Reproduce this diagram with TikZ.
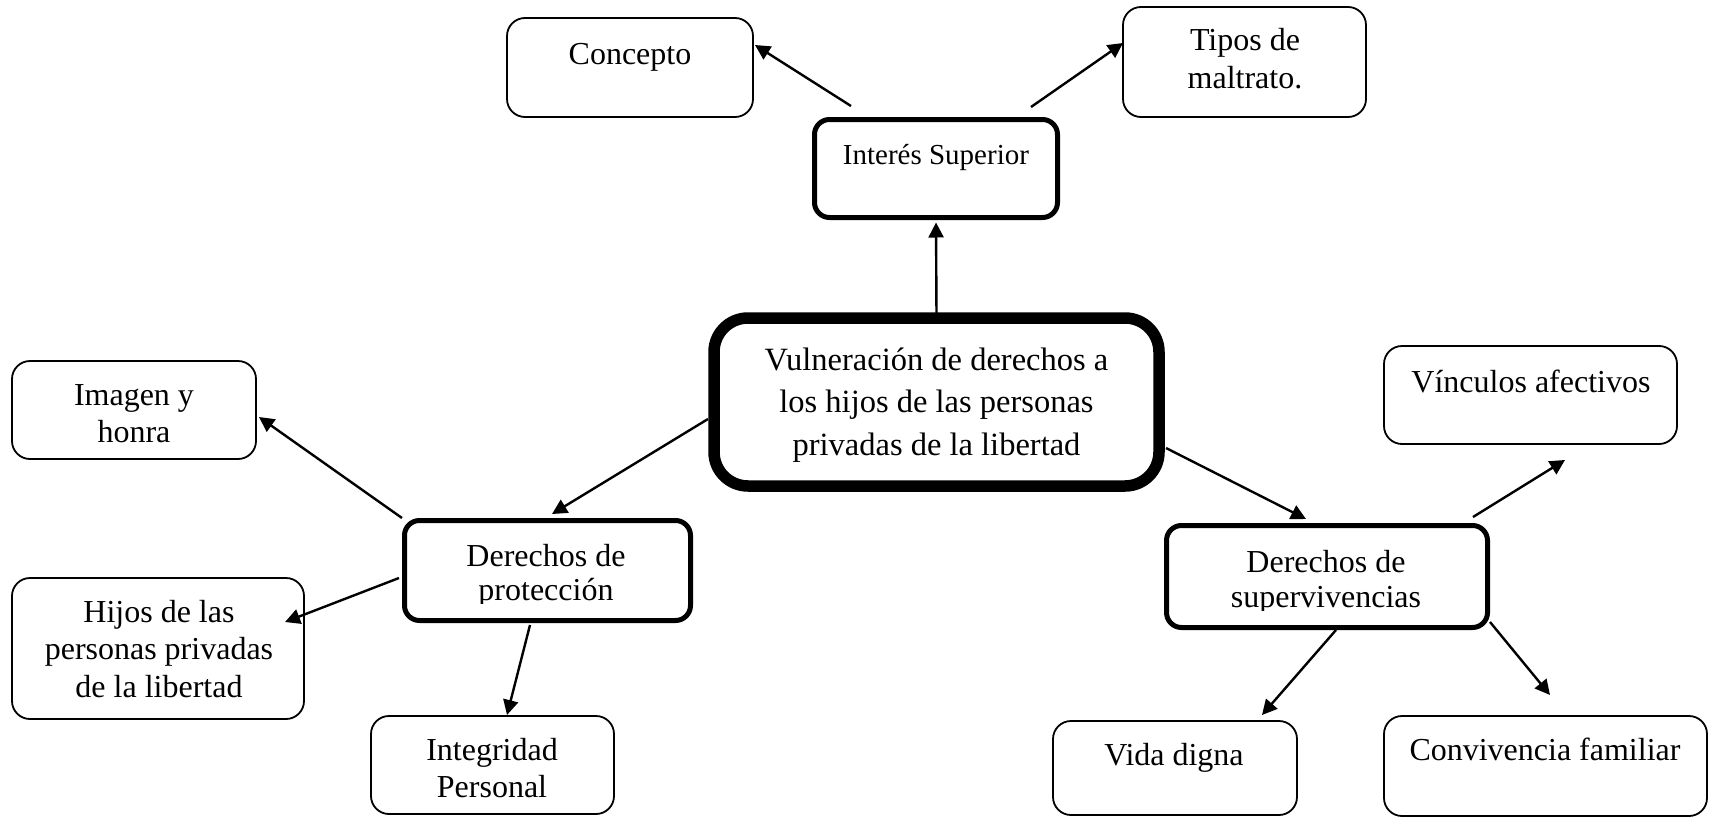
\documentclass[tikz,border=0pt]{standalone}
\usepackage{fontspec}
\setmainfont{Liberation Serif}
\usetikzlibrary{arrows.meta}
\newcommand{\boxtext}[1]{\parbox[t]{420pt}{\centering #1}}
\begin{document}
\begin{tikzpicture}[x=1pt,y=-1pt,
  thinbox/.style={draw, rounded corners=18pt, line width=1.8pt, inner sep=0pt, outer sep=0pt},
  thickbox/.style={draw, rounded corners=15pt, line width=5pt, inner sep=0pt, outer sep=0pt},
  mainbox/.style={draw, rounded corners=34pt, line width=11.5pt, inner sep=0pt, outer sep=0pt},
  txt/.style={anchor=base, inner sep=0pt, font=\fontsize{32}{37.5}\selectfont},
  arr/.style={line width=2.4pt, -{Triangle[length=15pt,width=15pt]}}]
\useasboundingbox (0,0) rectangle (1709,819);

% boxes
\node[mainbox, minimum width=445pt, minimum height=168pt] (central) at (936.5,402) {};
\node[thickbox, minimum width=243pt, minimum height=98pt] (interes) at (936,168.5) {};
\node[thinbox, minimum width=246pt, minimum height=99pt] (concepto) at (630,67.5) {};
\node[thinbox, minimum width=243pt, minimum height=110pt] (tipos) at (1244.5,62) {};
\node[thickbox, minimum width=286pt, minimum height=100pt] (derprot) at (547.5,570.5) {};
\node[thinbox, minimum width=244pt, minimum height=98pt] (imagen) at (134,410) {};
\node[thinbox, minimum width=292pt, minimum height=141pt] (hijos) at (158,648.5) {};
\node[thinbox, minimum width=243pt, minimum height=98pt] (integ) at (492.5,765) {};
\node[thickbox, minimum width=321pt, minimum height=102pt] (dersup) at (1327,576.5) {};
\node[thinbox, minimum width=293pt, minimum height=98pt] (vinculos) at (1530.5,395) {};
\node[thinbox, minimum width=244pt, minimum height=94pt] (vida) at (1175,768) {};
\node[thinbox, minimum width=323pt, minimum height=100pt] (conv) at (1545.5,766) {};

% texts
\node[txt, font=\fontsize{32.5}{42.5}\selectfont] (central-t) at (936.5,370) {\boxtext{Vulneración de derechos a\\los hijos de las personas\\privadas de la libertad}};
\node[txt, font=\fontsize{29}{34}\selectfont] (interes-t) at (936,164) {\boxtext{Interés Superior}};
\node[txt] (concepto-t) at (630,64) {\boxtext{Concepto}};
\node[txt, font=\fontsize{32}{38}\selectfont] (tipos-t) at (1245,50) {\boxtext{Tipos de\\maltrato.}};
\begin{scope}
\clip (405,530) rectangle (690,603);
\node[txt, font=\fontsize{32}{34}\selectfont] (derprot-t) at (546,566) {\boxtext{Derechos de\\protección}};
\end{scope}
\node[txt] (imagen-t) at (134,405) {\boxtext{Imagen y\\honra}};
\node[txt] (hijos-t) at (159,622) {\boxtext{Hijos de las\\personas privadas\\de la libertad}};
\node[txt] (integ-t) at (492,760) {\boxtext{Integridad\\Personal}};
\begin{scope}
\clip (1170,530) rectangle (1485,610);
\node[txt, font=\fontsize{32}{35}\selectfont] (dersup-t) at (1326,572) {\boxtext{Derechos de\\supervivencias}};
\end{scope}
\node[txt] (vinculos-t) at (1531,392) {\boxtext{Vínculos afectivos}};
\node[txt] (vida-t) at (1174,765) {\boxtext{Vida digna}};
\node[txt] (conv-t) at (1545,760) {\boxtext{Convivencia familiar}};

% connector end points
\coordinate (a2s) at (851,106);
\coordinate (a2e) at (755,45);
\coordinate (a3s) at (1031,107);
\coordinate (a3e) at (1123,43);
\coordinate (a4s) at (708,419);
\coordinate (a4e) at (552,514);
\coordinate (a5s) at (402,518);
\coordinate (a5e) at (259,417);
\coordinate (a6s) at (399,578);
\coordinate (a6e) at (285,622);
\coordinate (a7s) at (530,625);
\coordinate (a7e) at (507,715);
\coordinate (a8s) at (1166,448);
\coordinate (a8e) at (1306,519);
\coordinate (a9s) at (1473,517);
\coordinate (a9e) at (1565,460);
\coordinate (a10s) at (1336,630);
\coordinate (a10e) at (1262,715);
\coordinate (a11s) at (1490,622);
\coordinate (a11e) at (1550,695);

% connectors
\draw[arr, shorten >=5pt] (central.north) -- (interes.south);
\draw[arr] (a2s) -- (a2e);
\draw[arr] (a3s) -- (a3e);
\draw[arr] (a4s) -- (a4e);
\draw[arr] (a5s) -- (a5e);
\draw[arr] (a6s) -- (a6e);
\draw[arr] (a7s) -- (a7e);
\draw[arr] (a8s) -- (a8e);
\draw[arr] (a9s) -- (a9e);
\draw[arr] (a10s) -- (a10e);
\draw[arr] (a11s) -- (a11e);
\end{tikzpicture}
\end{document}
